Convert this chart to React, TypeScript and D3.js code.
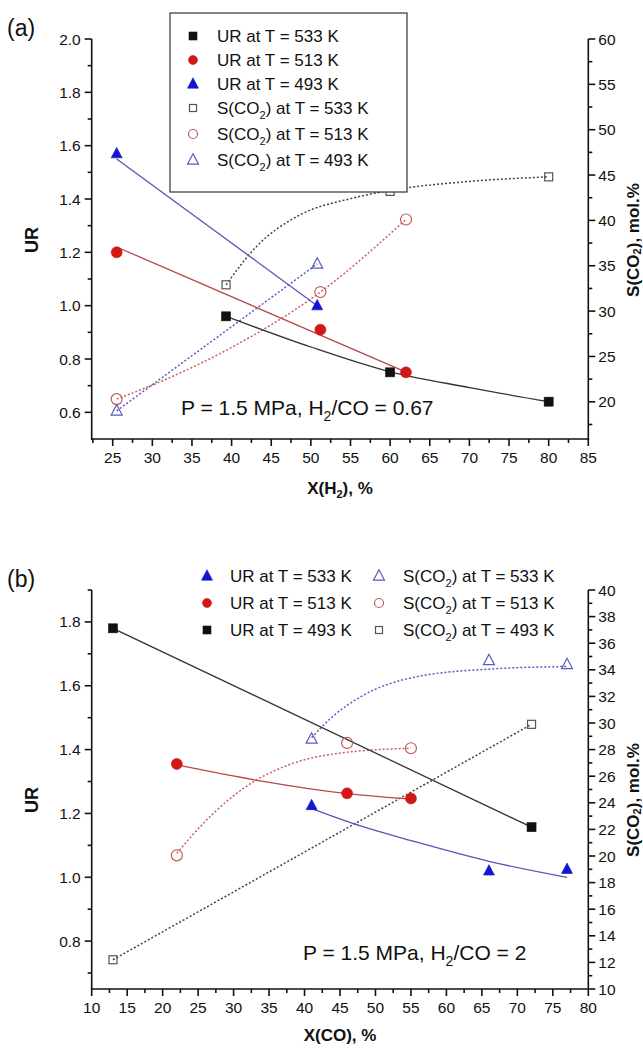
import React from "react";
import * as d3 from "d3";

type Pt = [number, number];

// ---------- Panel (a): x = X(H2), % ----------
const aUR533: Pt[] = [[39.3, 0.96], [60, 0.75], [80, 0.64]];
const aUR513: Pt[] = [[25.5, 1.2], [51.2, 0.91], [62, 0.75]];
const aUR493: Pt[] = [[25.5, 1.57], [50.8, 1.0]];
const aS533: Pt[] = [[39.3, 32.9], [60, 43.2], [80, 44.8]];
const aS513: Pt[] = [[25.5, 20.3], [51.2, 32.1], [62, 40.1]];
const aS493: Pt[] = [[25.5, 19.0], [50.8, 35.2]];
// fitted curves
const aFitUR533: Pt[] = [[39.3, 0.96], [50, 0.845], [60, 0.752], [70, 0.693], [80, 0.64]];
const aFitUR513: Pt[] = [[25.5, 1.22], [61.5, 0.757]];
const aFitUR493: Pt[] = [[25.5, 1.55], [50.8, 1.0]];
const aFitS533: Pt[] = [[39.3, 32.9], [43, 37], [48.6, 40.6], [55, 42.4], [60, 43.3], [70, 44.3], [80, 44.8]];
const aFitS513: Pt[] = [[25.5, 20.3], [31.5, 22.4], [40, 26.0], [51.2, 32.1], [62, 40.1]];
const aFitS493: Pt[] = [[25.5, 19.0], [50.8, 35.2]];

const aXTicks = [25, 30, 35, 40, 45, 50, 55, 60, 65, 70, 75, 80, 85];
const aXMinor = [22.5, 27.5, 32.5, 37.5, 42.5, 47.5, 52.5, 57.5, 62.5, 67.5, 72.5, 77.5, 82.5];
const aYTicks = [0.6, 0.8, 1.0, 1.2, 1.4, 1.6, 1.8, 2.0];
const aYMinor = [0.7, 0.9, 1.1, 1.3, 1.5, 1.7, 1.9];
const aY2Ticks = [20, 25, 30, 35, 40, 45, 50, 55, 60];
const aY2Minor = [17.5, 22.5, 27.5, 32.5, 37.5, 42.5, 47.5, 52.5, 57.5];

// ---------- Panel (b): x = X(CO), % ----------
const bUR533: Pt[] = [[41, 1.225], [66, 1.02], [77, 1.025]];
const bUR513: Pt[] = [[22, 1.355], [46, 1.263], [55, 1.247]];
const bUR493: Pt[] = [[13, 1.78], [72, 1.157]];
const bS533: Pt[] = [[41, 28.8], [66, 34.7], [77, 34.4]];
const bS513: Pt[] = [[22, 20.05], [46, 28.5], [55, 28.1]];
const bS493: Pt[] = [[13, 12.2], [72, 29.9]];
const bFitUR533: Pt[] = [[41, 1.215], [48, 1.16], [55, 1.115], [66, 1.05], [77, 1.0]];
const bFitUR513: Pt[] = [[22, 1.352], [46, 1.262], [55, 1.245]];
const bFitUR493: Pt[] = [[13, 1.78], [72, 1.157]];
const bFitS533: Pt[] = [[41, 28.9], [44, 30.5], [48, 32.0], [56, 33.5], [66, 34.05], [77, 34.25]];
const bFitS513: Pt[] = [[22, 20.2], [26, 22.6], [31.7, 25.2], [38, 26.9], [46, 27.8], [55, 28.1]];
const bFitS493: Pt[] = [[13, 12.2], [72, 29.9]];

const bXTicks = [10, 15, 20, 25, 30, 35, 40, 45, 50, 55, 60, 65, 70, 75, 80];
const bXMinor = [12.5, 17.5, 22.5, 27.5, 32.5, 37.5, 42.5, 47.5, 52.5, 57.5, 62.5, 67.5, 72.5, 77.5];
const bYTicks = [0.8, 1.0, 1.2, 1.4, 1.6, 1.8];
const bYMinor = [0.7, 0.9, 1.1, 1.3, 1.5, 1.7, 1.9];
const bY2Ticks = [10, 12, 14, 16, 18, 20, 22, 24, 26, 28, 30, 32, 34, 36, 38, 40];
const bY2Minor = [11, 13, 15, 17, 19, 21, 23, 25, 27, 29, 31, 33, 35, 37, 39];

const FONT = "'Liberation Sans', Arial, Helvetica, sans-serif";

const C_BLACK = "#111";
const C_RED = "#d01818";
const C_BLUE = "#1414d2";
const C_GRAY_O = "#555";
const C_RED_O = "#c45a5a";
const C_BLUE_O = "#5b5bc4";
const L_BLACK = "#333";
const L_RED = "#b84848";
const L_BLUE = "#5656b8";

type MType = "sq" | "ci" | "tri";

interface Series {
  pts: Pt[];
  fit: Pt[];
  right: boolean;
  marker: MType;
  filled: boolean;
  color: string;
  line: string;
}

function Marker({ t, filled, x, y, color, s }: { t: MType; filled: boolean; x: number; y: number; color: string; s: number }) {
  const fill = filled ? color : "none";
  const sw = filled ? 0.6 : 1.2;
  if (t === "sq") {
    return <rect x={x - s / 2} y={y - s / 2} width={s} height={s} fill={fill} stroke={color} strokeWidth={sw} />;
  }
  if (t === "ci") {
    return <circle cx={x} cy={y} r={s / 2} fill={fill} stroke={color} strokeWidth={sw} />;
  }
  const h = s * 0.95;
  const pts = `${x},${y - h * 0.6} ${x - s / 2},${y + h * 0.4} ${x + s / 2},${y + h * 0.4}`;
  return <polygon points={pts} fill={fill} stroke={color} strokeWidth={sw} strokeLinejoin="miter" />;
}

function SText({ x, y, size, rest, anchor }: { x: number; y: number; size: number; rest: string; anchor?: string }) {
  return (
    <text x={x} y={y} fontSize={size} fontFamily={FONT} textAnchor={anchor || "start"} fill="#111">
      S(CO
      <tspan dy={size * 0.3} fontSize={size * 0.65}>2</tspan>
      <tspan dy={-size * 0.3}>{rest}</tspan>
    </text>
  );
}

interface PanelCfg {
  L: number; R: number; T: number; B: number;
  xDom: [number, number]; yDom: [number, number]; y2Dom: [number, number];
  xTicks: number[]; xMinor: number[];
  yTicks: number[]; yMinor: number[]; yFmt: (v: number) => string;
  y2Ticks: number[]; y2Minor: number[];
  series: Series[];
  tag: string;
  yTitleY: number;
}

function Panel({ c, children }: { c: PanelCfg; children?: React.ReactNode }) {
  const x = d3.scaleLinear().domain(c.xDom).range([c.L, c.R]);
  const y = d3.scaleLinear().domain(c.yDom).range([c.B, c.T]);
  const y2 = d3.scaleLinear().domain(c.y2Dom).range([c.B, c.T]);
  const line = (sc: d3.ScaleLinear<number, number>) =>
    d3.line<Pt>().x((d) => x(d[0])).y((d) => sc(d[1])).curve(d3.curveMonotoneX);
  const MAJ = 7, MIN = 4;
  const axW = 1.6;
  return (
    <g>
      {c.series.map((s, i) => (
        <path
          key={"l" + i}
          d={line(s.right ? y2 : y)(s.fit) || ""}
          fill="none"
          stroke={s.line}
          strokeWidth={s.filled ? 1.3 : 1.5}
          strokeDasharray={s.filled ? undefined : "2,2"}
        />
      ))}
      {c.series.map((s, i) =>
        s.pts.map((p, j) => (
          <Marker
            key={"m" + i + "-" + j}
            t={s.marker}
            filled={s.filled}
            x={x(p[0])}
            y={(s.right ? y2 : y)(p[1])}
            color={s.color}
            s={s.filled ? (s.marker === "tri" ? 11 : s.marker === "ci" ? 11 : 9) : s.marker === "sq" ? 8 : 11}
          />
        ))
      )}
      <g stroke="#111" strokeWidth={axW} fill="none">
        <line x1={c.L} x2={c.L} y1={c.T} y2={c.B + axW / 2} />
        <line x1={c.R} x2={c.R} y1={c.T} y2={c.B + axW / 2} />
        <line x1={c.L - axW / 2} x2={c.R + axW / 2} y1={c.B} y2={c.B} />
        {c.xTicks.map((v) => (
          <line key={"xt" + v} x1={x(v)} x2={x(v)} y1={c.B} y2={c.B + MAJ} />
        ))}
        {c.xMinor.map((v) => (
          <line key={"xm" + v} x1={x(v)} x2={x(v)} y1={c.B} y2={c.B + MIN} />
        ))}
        {c.yTicks.map((v) => (
          <line key={"yt" + v} x1={c.L - MAJ} x2={c.L} y1={y(v)} y2={y(v)} />
        ))}
        {c.yMinor.map((v) => (
          <line key={"ym" + v} x1={c.L - MIN} x2={c.L} y1={y(v)} y2={y(v)} />
        ))}
        {c.y2Ticks.map((v) => (
          <line key={"y2t" + v} x1={c.R} x2={c.R + MAJ} y1={y2(v)} y2={y2(v)} />
        ))}
        {c.y2Minor.map((v) => (
          <line key={"y2m" + v} x1={c.R} x2={c.R + MIN} y1={y2(v)} y2={y2(v)} />
        ))}
      </g>
      <g fontFamily={FONT} fontSize={15.5} fill="#111">
        {c.xTicks.map((v) => (
          <text key={"xl" + v} x={x(v)} y={c.B + 24} textAnchor="middle">{v}</text>
        ))}
        {c.yTicks.map((v) => (
          <text key={"yl" + v} x={c.L - 11} y={y(v) + 5.5} textAnchor="end">{c.yFmt(v)}</text>
        ))}
        {c.y2Ticks.map((v) => (
          <text key={"y2l" + v} x={c.R + 10} y={y2(v) + 5.5} textAnchor="start">{v}</text>
        ))}
      </g>
      <text x={32} y={c.yTitleY} fontFamily={FONT} fontSize={18} fontWeight="bold" textAnchor="middle"
        dominantBaseline="central" transform={`rotate(-90 32 ${c.yTitleY})`} fill="#111">UR</text>
      <text x={633} y={c.yTitleY} fontFamily={FONT} fontSize={17} fontWeight="bold" textAnchor="middle"
        dominantBaseline="central" transform={`rotate(-90 633 ${c.yTitleY})`} fill="#111">
        S(CO<tspan dy={4} fontSize={11}>2</tspan><tspan dy={-4}>), mol.%</tspan>
      </text>
      <text x={7} y={c.T - 3} fontFamily={FONT} fontSize={23} fill="#111">{c.tag}</text>
      {children}
    </g>
  );
}

const panelA: PanelCfg = {
  L: 91.7, R: 588.3, T: 39, B: 439,
  xDom: [22.35, 85], yDom: [0.5, 2.0], y2Dom: [15.9, 60],
  xTicks: aXTicks, xMinor: aXMinor,
  yTicks: aYTicks, yMinor: aYMinor, yFmt: d3.format(".1f"),
  y2Ticks: aY2Ticks, y2Minor: aY2Minor,
  tag: "(a)",
  yTitleY: 240,
  series: [
    { pts: aS533, fit: aFitS533, right: true, marker: "sq", filled: false, color: C_GRAY_O, line: "#444" },
    { pts: aS513, fit: aFitS513, right: true, marker: "ci", filled: false, color: C_RED_O, line: "#c86060" },
    { pts: aS493, fit: aFitS493, right: true, marker: "tri", filled: false, color: C_BLUE_O, line: "#5a5ac8" },
    { pts: aUR533, fit: aFitUR533, right: false, marker: "sq", filled: true, color: C_BLACK, line: L_BLACK },
    { pts: aUR513, fit: aFitUR513, right: false, marker: "ci", filled: true, color: C_RED, line: L_RED },
    { pts: aUR493, fit: aFitUR493, right: false, marker: "tri", filled: true, color: C_BLUE, line: L_BLUE },
  ],
};

const panelB: PanelCfg = {
  L: 91.7, R: 588.3, T: 590, B: 989,
  xDom: [10, 80], yDom: [0.65, 1.9], y2Dom: [10, 40],
  xTicks: bXTicks, xMinor: bXMinor,
  yTicks: bYTicks, yMinor: bYMinor, yFmt: d3.format(".1f"),
  y2Ticks: bY2Ticks, y2Minor: bY2Minor,
  tag: "(b)",
  yTitleY: 800,
  series: [
    { pts: bS533, fit: bFitS533, right: true, marker: "tri", filled: false, color: C_BLUE_O, line: "#5a5ac8" },
    { pts: bS513, fit: bFitS513, right: true, marker: "ci", filled: false, color: C_RED_O, line: "#c86060" },
    { pts: bS493, fit: bFitS493, right: true, marker: "sq", filled: false, color: C_GRAY_O, line: "#444" },
    { pts: bUR533, fit: bFitUR533, right: false, marker: "tri", filled: true, color: C_BLUE, line: L_BLUE },
    { pts: bUR513, fit: bFitUR513, right: false, marker: "ci", filled: true, color: C_RED, line: L_RED },
    { pts: bUR493, fit: bFitUR493, right: false, marker: "sq", filled: true, color: C_BLACK, line: L_BLACK },
  ],
};

export default function App() {
  const LF = 17;
  const legA = [
    { t: "sq" as MType, f: true, c: C_BLACK, label: "UR at T = 533 K", s: false, y: 36 },
    { t: "ci" as MType, f: true, c: C_RED, label: "UR at T = 513 K", s: false, y: 60 },
    { t: "tri" as MType, f: true, c: C_BLUE, label: "UR at T = 493 K", s: false, y: 84 },
    { t: "sq" as MType, f: false, c: C_GRAY_O, label: " at T = 533 K", s: true, y: 108 },
    { t: "ci" as MType, f: false, c: C_RED_O, label: " at T = 513 K", s: true, y: 134 },
    { t: "tri" as MType, f: false, c: C_BLUE_O, label: " at T = 493 K", s: true, y: 160 },
  ];
  const legB = [
    { t: "tri" as MType, f: true, c: C_BLUE, label: "UR at T = 533 K", s: false, x: 207, y: 576 },
    { t: "ci" as MType, f: true, c: C_RED, label: "UR at T = 513 K", s: false, x: 207, y: 603 },
    { t: "sq" as MType, f: true, c: C_BLACK, label: "UR at T = 493 K", s: false, x: 207, y: 630 },
    { t: "tri" as MType, f: false, c: C_BLUE_O, label: " at T = 533 K", s: true, x: 379, y: 576 },
    { t: "ci" as MType, f: false, c: C_RED_O, label: " at T = 513 K", s: true, x: 379, y: 603 },
    { t: "sq" as MType, f: false, c: C_GRAY_O, label: " at T = 493 K", s: true, x: 379, y: 630 },
  ];
  const msize = (t: MType, f: boolean) => (t === "sq" ? (f ? 8 : 7) : t === "tri" ? 11 : 9);
  return (
    <svg width={643} height={1048} style={{ position: "absolute", left: 0, top: 0, background: "#fff" }}>
      <rect x={0} y={0} width={643} height={1048} fill="#fff" />
      <Panel c={panelA}>
        <text x={340} y={494} fontFamily={FONT} fontSize={17} fontWeight="bold" textAnchor="middle" fill="#111">
          X(H<tspan dy={4} fontSize={11}>2</tspan><tspan dy={-4}>), %</tspan>
        </text>
        <text x={181} y={415} fontFamily={FONT} fontSize={21} fill="#111">
          P = 1.5 MPa, H<tspan dy={6} fontSize={14}>2</tspan><tspan dy={-6}>/CO = 0.67</tspan>
        </text>
        <rect x={170} y={13} width={237} height={179} fill="#fff" stroke="#333" strokeWidth={1.2} />
        {legA.map((e, i) => (
          <g key={"la" + i}>
            <Marker t={e.t} filled={e.f} x={193} y={e.y} color={e.c} s={msize(e.t, e.f)} />
            {e.s ? (
              <SText x={217} y={e.y + 6} size={LF} rest={")" + e.label} />
            ) : (
              <text x={217} y={e.y + 6} fontSize={LF} fontFamily={FONT} fill="#111">{e.label}</text>
            )}
          </g>
        ))}
      </Panel>
      <Panel c={panelB}>
        <text x={340} y={1041} fontFamily={FONT} fontSize={17} fontWeight="bold" textAnchor="middle" fill="#111">
          X(CO), %
        </text>
        <text x={303} y={960} fontFamily={FONT} fontSize={21} fill="#111">
          P = 1.5 MPa, H<tspan dy={6} fontSize={14}>2</tspan><tspan dy={-6}>/CO = 2</tspan>
        </text>
        {legB.map((e, i) => (
          <g key={"lb" + i}>
            <Marker t={e.t} filled={e.f} x={e.x} y={e.y} color={e.c} s={msize(e.t, e.f)} />
            {e.s ? (
              <SText x={e.x + 24} y={e.y + 6} size={LF} rest={")" + e.label} />
            ) : (
              <text x={e.x + 23} y={e.y + 6} fontSize={LF} fontFamily={FONT} fill="#111">{e.label}</text>
            )}
          </g>
        ))}
      </Panel>
    </svg>
  );
}
